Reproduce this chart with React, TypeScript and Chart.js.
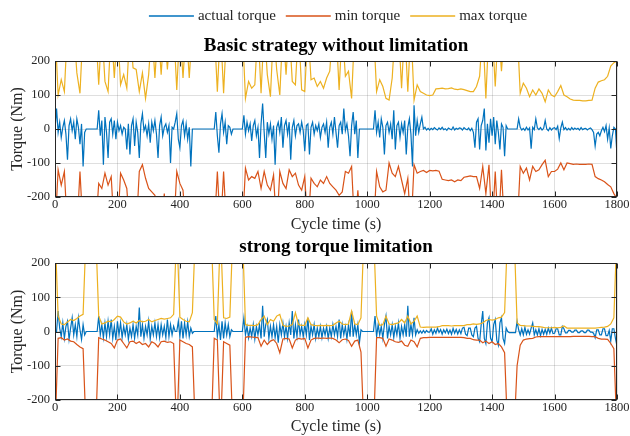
import { useEffect, useRef } from 'react';
import { Chart, registerables } from 'chart.js';

Chart.register(...registerables);

// ---------------- data ----------------
// sample times (s) of the torque limits
const TIME_LIMITS = [
  0, 10, 20, 30, 40, 50, 60, 70, 80, 90,
  100, 110, 120, 130, 140, 150, 160, 170, 180, 190,
  200, 210, 220, 230, 240, 250, 260, 270, 280, 290,
  300, 310, 320, 330, 340, 350, 360, 370, 380, 390,
  400, 410, 420, 430, 440, 450, 460, 470, 480, 490,
  500, 510, 520, 530, 540, 550, 560, 570, 580, 590,
  600, 610, 620, 630, 640, 650, 660, 670, 680, 690,
  700, 710, 720, 730, 740, 750, 760, 770, 780, 790,
  800, 810, 820, 830, 840, 850, 860, 870, 880, 890,
  900, 910, 920, 930, 940, 950, 960, 970, 980, 990,
  1000, 1010, 1020, 1030, 1040, 1050, 1060, 1070, 1080, 1090,
  1100, 1110, 1120, 1130, 1140, 1150, 1160, 1170, 1180, 1190,
  1200, 1210, 1220, 1230, 1240, 1250, 1260, 1270, 1280, 1290,
  1300, 1310, 1320, 1330, 1340, 1350, 1360, 1370, 1380, 1390,
  1400, 1410, 1420, 1430, 1440, 1450, 1460, 1470, 1480, 1490,
  1500, 1510, 1520, 1530, 1540, 1550, 1560, 1570, 1580, 1590,
  1600, 1610, 1620, 1630, 1640, 1650, 1660, 1670, 1680, 1690,
  1700, 1710, 1720, 1730, 1740, 1750, 1760, 1770, 1780, 1790,
  1800,
];

// sample times (s) of the actual torque
const TIME_ACTUAL = [
  0, 5, 10, 15, 20, 25, 30, 35, 40, 45, 50, 55, 60, 65, 70, 75, 80, 85, 90, 95,
  100, 105, 110, 115, 120, 125, 130, 135, 140, 145, 150, 155, 160, 165, 170, 175, 180, 185, 190, 195,
  200, 205, 210, 215, 220, 225, 230, 235, 240, 245, 250, 255, 260, 265, 270, 275, 280, 285, 290, 295,
  300, 305, 310, 315, 320, 325, 330, 335, 340, 345, 350, 355, 360, 365, 370, 375, 380, 385, 390, 395,
  400, 405, 410, 415, 420, 425, 430, 435, 440, 445, 450, 455, 460, 465, 470, 475, 480, 485, 490, 495,
  500, 505, 510, 515, 520, 525, 530, 535, 540, 545, 550, 555, 560, 565, 570, 575, 580, 585, 590, 595,
  600, 605, 610, 615, 620, 625, 630, 635, 640, 645, 650, 655, 660, 665, 670, 675, 680, 685, 690, 695,
  700, 705, 710, 715, 720, 725, 730, 735, 740, 745, 750, 755, 760, 765, 770, 775, 780, 785, 790, 795,
  800, 805, 810, 815, 820, 825, 830, 835, 840, 845, 850, 855, 860, 865, 870, 875, 880, 885, 890, 895,
  900, 905, 910, 915, 920, 925, 930, 935, 940, 945, 950, 955, 960, 965, 970, 975, 980, 985, 990, 995,
  1000, 1005, 1010, 1015, 1020, 1025, 1030, 1035, 1040, 1045, 1050, 1055, 1060, 1065, 1070, 1075, 1080, 1085, 1090, 1095,
  1100, 1105, 1110, 1115, 1120, 1125, 1130, 1135, 1140, 1145, 1150, 1155, 1160, 1165, 1170, 1175, 1180, 1185, 1190, 1195,
  1200, 1205, 1210, 1215, 1220, 1225, 1230, 1235, 1240, 1245, 1250, 1255, 1260, 1265, 1270, 1275, 1280, 1285, 1290, 1295,
  1300, 1305, 1310, 1315, 1320, 1325, 1330, 1335, 1340, 1345, 1350, 1355, 1360, 1365, 1370, 1375, 1380, 1385, 1390, 1395,
  1400, 1405, 1410, 1415, 1420, 1425, 1430, 1435, 1440, 1445, 1450, 1455, 1460, 1465, 1470, 1475, 1480, 1485, 1490, 1495,
  1500, 1505, 1510, 1515, 1520, 1525, 1530, 1535, 1540, 1545, 1550, 1555, 1560, 1565, 1570, 1575, 1580, 1585, 1590, 1595,
  1600, 1605, 1610, 1615, 1620, 1625, 1630, 1635, 1640, 1645, 1650, 1655, 1660, 1665, 1670, 1675, 1680, 1685, 1690, 1695,
  1700, 1705, 1710, 1715, 1720, 1725, 1730, 1735, 1740, 1745, 1750, 1755, 1760, 1765, 1770, 1775, 1780, 1785, 1790, 1795,
  1800,
];

// Basic strategy without limitation
const ACTUAL_BASIC = [
  0, 60, -10, 20, -25, 5, 25, -15, -90, 10, 30, -5, 20, -30, 30, 5, -45, 15, -110, -10,
  0, 0, 0, 0, 0, 0, 0, 0, 55, -20, 25, -105, 35, -10, -85, 20, 30, -15, 25, -30,
  20, -5, 10, -15, 5, 0, -60, 15, -75, 10, 30, -50, 20, -10, -85, 15, 45, -5, 10, -20,
  15, -40, 20, -5, 25, -15, -85, 10, 35, -20, 5, 15, -10, 10, -100, 5, 0, 20, 45, -30,
  -55, 10, 25, -20, 15, -30, 5, -110, 0, 0, 0, 0, 0, 0, 0, 0, 0, 0, 0, 0,
  0, 0, 0, 50, -20, -70, 15, 45, -10, 20, -45, 10, 5, -15, 0, 0, 0, 0, 0, 0,
  0, 40, -15, 20, -5, 15, -35, 10, 25, -20, 5, -85, 15, 75, -10, -85, 20, -15, 15, -30,
  10, -105, 5, 20, -10, 35, -55, 10, 25, -15, 20, -90, 5, 25, -20, 10, 15, -10, 20, -5,
  -65, 10, 15, -75, 5, 20, -15, 10, -5, 15, -25, 5, 15, -10, 20, -55, 5, 20, -15, 35,
  -10, -55, 10, 20, -15, 60, -5, 15, -20, -80, 10, 50, -15, 25, -85, 0, 0, 0, 0, 0,
  0, 0, 0, 0, 0, 55, -10, 20, -25, 30, 5, -75, 10, 20, -10, 15, -30, 55, -60, 10,
  20, -25, 15, -10, 25, -75, 5, 30, -15, -110, 70, -20, 25, -10, 15, 35, 0, 5, -3, 2,
  -3, 2, -2, 4, 0, -3, 3, -1, 5, -2, 1, -4, 3, 0, -2, 6, -3, 2, -1, 3,
  2, -3, 4, 0, -2, 3, -5, 2, -10, -55, 20, 30, -60, 10, 25, 60, -63, 15, -40, 30,
  -20, 35, -45, 25, -10, -60, 15, 5, -80, 10, 0, 0, 0, 0, 0, 0, 0, 30, 5, -3,
  2, -4, 5, -3, 3, -58, 5, -2, 30, 3, -2, 4, -3, 2, 25, 0, -5, 4, -3, 2,
  4, -2, 8, -28, 3, 20, -2, 4, -3, 2, -3, 4, -2, 3, -1, 2, -3, 4, -2, 1,
  2, -3, 1, 3, -2, -10, -50, -15, -10, -20, -5, 5, -8, 10, -30, 3, -57, -20, 5, 0,
  -78,
];
const MIN_BASIC = [
  -300, -120, -165, -125, -300, -300, -300, -300, -125, -300,
  -300, -300, -300, -300, -160, -175, -130, -165, -140, -300,
  -300, -130, -150, -175, -300, -300, -300, -125, -105, -145,
  -175, -185, -195, -300, -300, -190, -300, -300, -300, -125,
  -160, -180, -300, -300, -300, -300, -300, -300, -300, -300,
  -300, -300, -125, -300, -125, -300, -300, -300, -300, -300,
  -300, -115, -150, -140, -145, -125, -175, -125, -165, -180,
  -135, -300, -125, -160, -175, -120, -140, -130, -165, -180,
  -140, -300, -145, -160, -170, -150, -160, -140, -160, -170,
  -180, -195, -185, -125, -130, -110, -300, -180, -300, -300,
  -300, -300, -300, -125, -170, -185, -180, -100, -130, -140,
  -110, -150, -190, -145, -300, -105, -130, -125, -122, -128,
  -122, -123, -122, -124, -148, -150, -152, -150, -155, -150,
  -152, -142, -140, -138, -140, -140, -175, -110, -190, -105,
  -300, -125, -300, -120, -300, -300, -300, -300, -300, -110,
  -130, -115, -150, -110, -125, -120, -105, -92, -140, -125,
  -125, -118, -100, -120, -100, -102, -104, -103, -104, -104,
  -104, -103, -104, -140, -146, -150, -155, -163, -170, -190,
  -205,
];
const MAX_BASIC = [
  300, 100, 145, 110, 300, 300, 300, 165, 105, 300,
  300, 300, 300, 300, 130, 300, 140, 110, 300, 150,
  300, 130, 160, 120, 300, 180, 175, 110, 165, 90,
  160, 300, 150, 300, 160, 300, 175, 300, 300, 115,
  300, 150, 300, 150, 300, 300, 300, 300, 300, 300,
  300, 300, 110, 300, 105, 300, 300, 300, 300, 300,
  300, 90, 140, 120, 130, 300, 105, 300, 160, 95,
  300, 175, 100, 300, 160, 300, 140, 130, 300, 115,
  110, 300, 145, 150, 125, 140, 120, 150, 170, 300,
  300, 115, 300, 155, 170, 90, 300, 300, 300, 300,
  300, 300, 300, 110, 145, 125, 90, 85, 150, 300,
  300, 120, 300, 110, 300, 85, 130, 110, 105, 100,
  98, 100, 118, 119, 120, 118, 119, 121, 117, 116,
  118, 116, 113, 110, 110, 125, 155, 300, 90, 300,
  300, 125, 300, 170, 300, 300, 300, 300, 300, 105,
  135, 120, 95, 115, 100, 118, 105, 80, 115, 100,
  95, 110, 128, 100, 95, 88, 85, 84, 84, 83,
  83, 84, 85, 120, 138, 142, 145, 155, 185, 195,
  200,
];

// strong torque limitation
const ACTUAL_STRONG = [
  0, 0, 60, 10, -15, 25, -20, 15, 30, -23, 10, 40, -10, 20, -15, 40, 5, -23, 20, -10,
  0, 0, 0, 0, 0, 0, 0, 0, 45, -10, 20, -18, 25, -15, 30, -10, 35, -20, 15, -25,
  30, -10, 25, -18, 15, -10, 20, -23, 10, -15, 20, -20, 15, -10, 70, -15, 20, -20, 15, -10,
  30, -22, 15, -10, 25, -15, 20, -18, 20, -10, 15, -18, 35, -15, 20, -10, 15, 0, 0, 30,
  -15, 30, -20, 25, -10, 28, -15, 10, -5, 0, 0, 0, 0, 0, 0, 0, 0, 0, 0, 0,
  0, 0, 0, 45, -15, 20, -25, 30, -20, 25, -10, 20, -15, 5, 0, 0, 0, 0, 0, 0,
  0, 40, -10, 15, -18, 10, -15, 20, -22, 15, -10, 20, -20, 75, -15, 20, 35, -20, 15, -15,
  20, -18, 15, -33, 20, -10, 25, -15, 15, -20, 25, -10, 60, -20, 20, -15, 35, -10, 15, -15,
  20, -10, 40, -25, 15, -10, 20, -20, 10, -15, 15, -18, 10, -10, 15, -20, 10, -15, 20, -10,
  15, -15, 35, -20, 20, -10, 15, -22, 20, -15, 60, -15, 20, -10, 20, -33, 5, 0, 0, 0,
  0, 0, 0, 0, 0, 45, -15, 20, -10, 15, -20, 20, 45, -20, 15, -10, 20, -18, 15, -10,
  25, -20, 15, -10, 20, -15, 75, -15, 20, -10, 40, -10, 5, -5, 2, -5, 3, -4, 3, -2,
  -2, 8, -8, 5, -5, 10, -3, 6, -8, 5, -4, 7, -6, 4, -8, 9, -5, 6, -7, 5,
  -6, 10, 12, -8, -12, 10, 10, -10, -15, 10, 15, -20, -30, 20, 60, -20, -35, 25, 40, -20,
  -30, 20, 35, -25, -40, 25, 40, -20, -35, 10, 0, -3, -3, -3, -3, -3, 30, 5, -10, 8,
  -10, 12, -8, 5, -8, 10, 25, -10, 5, -10, 8, -12, 6, -8, 6, -8, 10, -5, 10, -6,
  -5, 8, 8, -10, -10, 15, 8, -4, -4, 3, 3, -2, -2, 4, 4, -3, -3, 2, 2, -3,
  -3, 4, 4, -2, -2, -5, -18, 5, 5, -10, -10, 8, 8, -12, -12, 3, -28, 8, 8, -20,
  -43,
];
const MIN_STRONG = [
  -300, -20, -18, -25, -22, -28, -30, -38, -45, -50,
  -300, -300, -300, -300, -18, -22, -25, -30, -35, -48,
  -25, -22, -35, -48, -30, -28, -35, -30, -38, -35,
  -45, -30, -35, -45, -30, -28, -32, -30, -35, -300,
  -25, -30, -35, -38, -45, -300, -300, -300, -300, -300,
  -300, -20, -25, -300, -30, -35, -40, -300, -300, -300,
  -300, -17, -15, -16, -17, -18, -43, -25, -38, -28,
  -24, -35, -62, -22, -20, -22, -48, -25, -20, -22,
  -20, -48, -25, -20, -19, -20, -19, -20, -19, -20,
  -25, -33, -24, -22, -26, -43, -28, -25, -60, -300,
  -300, -300, -300, -18, -18, -20, -43, -22, -25, -30,
  -32, -28, -40, -43, -25, -30, -45, -20, -18, -18,
  -17, -17, -17, -17, -17, -17, -17, -17, -17, -17,
  -17, -18, -20, -20, -24, -25, -25, -33, -28, -35,
  -30, -38, -35, -45, -62, -300, -300, -300, -100, -40,
  -25, -22, -21, -20, -16, -15, -15, -15, -15, -15,
  -15, -15, -15, -15, -15, -15, -14, -14, -14, -14,
  -14, -14, -15, -15, -20, -22, -22, -23, -35, -50,
  -300,
];
const MAX_STRONG = [
  300, 45, 22, 20, 28, 35, 32, 38, 45, 50,
  300, 300, 300, 300, 45, 22, 25, 30, 28, 35,
  45, 42, 28, 22, 25, 30, 25, 32, 28, 30,
  35, 28, 32, 35, 38, 36, 38, 40, 50, 300,
  42, 35, 30, 28, 55, 300, 300, 300, 300, 300,
  300, 35, 22, 300, 40, 38, 42, 300, 300, 300,
  300, 20, 18, 18, 17, 20, 35, 45, 20, 35,
  30, 45, 50, 18, 15, 16, 20, 55, 20, 18,
  18, 40, 20, 18, 17, 18, 17, 18, 17, 18,
  25, 30, 22, 20, 22, 60, 22, 20, 40, 300,
  300, 300, 300, 45, 18, 20, 45, 22, 20, 23,
  25, 35, 25, 45, 22, 30, 45, 13, 12, 13,
  13, 13, 13, 14, 17, 17, 17, 16, 17, 17,
  17, 17, 20, 20, 22, 21, 22, 25, 32, 35,
  33, 35, 40, 42, 55, 300, 300, 300, 25, 18,
  17, 16, 16, 15, 14, 14, 13, 11, 11, 11,
  12, 11, 12, 16, 10, 10, 10, 10, 10, 10,
  10, 10, 10, 10, 11, 12, 13, 15, 22, 40,
  300,
];

const X_TICKS = [0, 200, 400, 600, 800, 1000, 1200, 1400, 1600, 1800];
const Y_TICKS = [-200, -100, 0, 100, 200];
const SERIES_LABELS = ['actual torque', 'min torque', 'max torque'];
const TITLES = ['Basic strategy without limitation', 'strong torque limitation'];
const X_TITLE = 'Cycle time (s)';
const Y_TITLE = 'Torque (Nm)';

// ---------------- style ----------------
const FONT = "'Liberation Serif', 'Times New Roman', serif";
const C_ACT = '#0072BD';
const C_MIN = '#D95319';
const C_MAX = '#EDB120';
const AXIS = '#262626';
const GRID = 'rgba(38,38,38,0.15)';
const SERIES_COLORS = [C_ACT, C_MIN, C_MAX];

function pts(time: number[], vals: number[]) {
  return time.map((t, i) => ({ x: t, y: vals[i] }));
}

function makeOverlay(title: string, titleY: number, legendY: number | null) {
  return {
    id: 'overlay',
    afterDatasetsDraw(chart: any) {
      const { ctx, chartArea: a, scales } = chart;
      ctx.save();
      ctx.strokeStyle = AXIS;
      ctx.lineWidth = 1;
      const L = Math.round(a.left) + 0.5;
      const R = Math.round(a.right) - 0.5;
      const T = Math.round(a.top) + 0.5;
      const B = Math.round(a.bottom) - 0.5;
      ctx.strokeRect(L, T, R - L, B - T);
      ctx.beginPath();
      X_TICKS.forEach((v) => {
        const px = Math.round(scales.x.getPixelForValue(v)) + 0.5;
        ctx.moveTo(px, B);
        ctx.lineTo(px, B - 5);
        ctx.moveTo(px, T);
        ctx.lineTo(px, T + 5);
      });
      Y_TICKS.forEach((v) => {
        const py = Math.round(scales.y.getPixelForValue(v)) + 0.5;
        ctx.moveTo(L, py);
        ctx.lineTo(L + 5, py);
        ctx.moveTo(R, py);
        ctx.lineTo(R - 5, py);
      });
      ctx.stroke();
      ctx.restore();
    },
    afterDraw(chart: any) {
      const { ctx, chartArea: a } = chart;
      const cx = (a.left + a.right) / 2;
      ctx.save();
      ctx.textBaseline = 'middle';
      ctx.fillStyle = '#000';
      ctx.font = `bold 19px ${FONT}`;
      ctx.textAlign = 'center';
      ctx.fillText(title, cx, titleY);
      if (legendY !== null) {
        ctx.font = `15px ${FONT}`;
        ctx.textAlign = 'left';
        const lineLen = 45;
        const gapText = 4;
        const gapItem = 10;
        const widths = SERIES_LABELS.map((s) => ctx.measureText(s).width);
        const total =
          widths.reduce((s, w) => s + w + lineLen + gapText, 0) + gapItem * (SERIES_LABELS.length - 1);
        let x = cx + 2 - total / 2;
        SERIES_LABELS.forEach((label, i) => {
          ctx.strokeStyle = SERIES_COLORS[i];
          ctx.lineWidth = 1.5;
          ctx.beginPath();
          ctx.moveTo(x, legendY);
          ctx.lineTo(x + lineLen, legendY);
          ctx.stroke();
          ctx.fillStyle = AXIS;
          ctx.fillText(label, x + lineLen + gapText, legendY + 0.5);
          x += lineLen + gapText + widths[i] + gapItem;
        });
      }
      ctx.restore();
    },
  };
}

function buildConfig(
  actual: number[],
  min: number[],
  max: number[],
  padTop: number,
  xAxisH: number,
  overlay: any
): any {
  const ds = (label: string, time: number[], vals: number[], color: string) => ({
    label,
    data: pts(time, vals),
    borderColor: color,
    backgroundColor: color,
    borderWidth: 1.2,
    pointRadius: 0,
    tension: 0,
    fill: false,
    clip: 0,
  });
  return {
    type: 'line',
    data: {
      datasets: [
        ds(SERIES_LABELS[2], TIME_LIMITS, max, C_MAX),
        ds(SERIES_LABELS[1], TIME_LIMITS, min, C_MIN),
        ds(SERIES_LABELS[0], TIME_ACTUAL, actual, C_ACT),
      ],
    },
    options: {
      animation: false,
      responsive: false,
      devicePixelRatio: 1,
      events: [],
      layout: { padding: { top: padTop, right: 13, left: 0, bottom: 0 } },
      plugins: {
        legend: { display: false },
        title: { display: false },
        tooltip: { enabled: false },
      },
      scales: {
        x: {
          type: 'linear',
          min: 0,
          max: 1800,
          afterBuildTicks: (s: any) => {
            s.ticks = X_TICKS.map((v) => ({ value: v }));
          },
          afterFit: (s: any) => {
            s.height = xAxisH;
          },
          ticks: {
            color: AXIS,
            font: { family: FONT, size: 12.5 },
            padding: 0,
            maxRotation: 0,
            autoSkip: false,
            callback: (v: any) => String(v),
          },
          grid: { color: GRID, drawTicks: false, lineWidth: 1 },
          border: { display: false },
          title: {
            display: true,
            text: X_TITLE,
            color: AXIS,
            font: { family: FONT, size: 16 },
            padding: { top: 0, bottom: 0 },
          },
        },
        y: {
          type: 'linear',
          min: -200,
          max: 200,
          afterBuildTicks: (s: any) => {
            s.ticks = Y_TICKS.map((v) => ({ value: v }));
          },
          afterFit: (s: any) => {
            s.width = 55;
          },
          ticks: {
            color: AXIS,
            font: { family: FONT, size: 12.5 },
            padding: 5,
            callback: (v: any) => String(v),
          },
          grid: { color: GRID, drawTicks: false, lineWidth: 1 },
          border: { display: false },
          title: {
            display: true,
            text: Y_TITLE,
            color: AXIS,
            font: { family: FONT, size: 16 },
            padding: { top: 8, bottom: 0 },
          },
        },
      },
    },
    plugins: [overlay],
  };
}

export default function App() {
  const topRef = useRef<HTMLCanvasElement>(null);
  const botRef = useRef<HTMLCanvasElement>(null);

  useEffect(() => {
    Chart.defaults.font.family = FONT;
    const c1 = new Chart(
      topRef.current as HTMLCanvasElement,
      buildConfig(ACTUAL_BASIC, MIN_BASIC, MAX_BASIC, 61, 37, makeOverlay(TITLES[0], 46, 16))
    );
    const c2 = new Chart(
      botRef.current as HTMLCanvasElement,
      buildConfig(ACTUAL_STRONG, MIN_STRONG, MAX_STRONG, 29, 36, makeOverlay(TITLES[1], 13, null))
    );
    return () => {
      c1.destroy();
      c2.destroy();
    };
  }, []);

  return (
    <div style={{ position: 'absolute', left: 0, top: 0, width: 630, height: 436, background: '#fff' }}>
      <canvas ref={topRef} width={630} height={234} style={{ position: 'absolute', left: 0, top: 0, width: 630, height: 234 }} />
      <canvas ref={botRef} width={630} height={202} style={{ position: 'absolute', left: 0, top: 234, width: 630, height: 202 }} />
    </div>
  );
}
